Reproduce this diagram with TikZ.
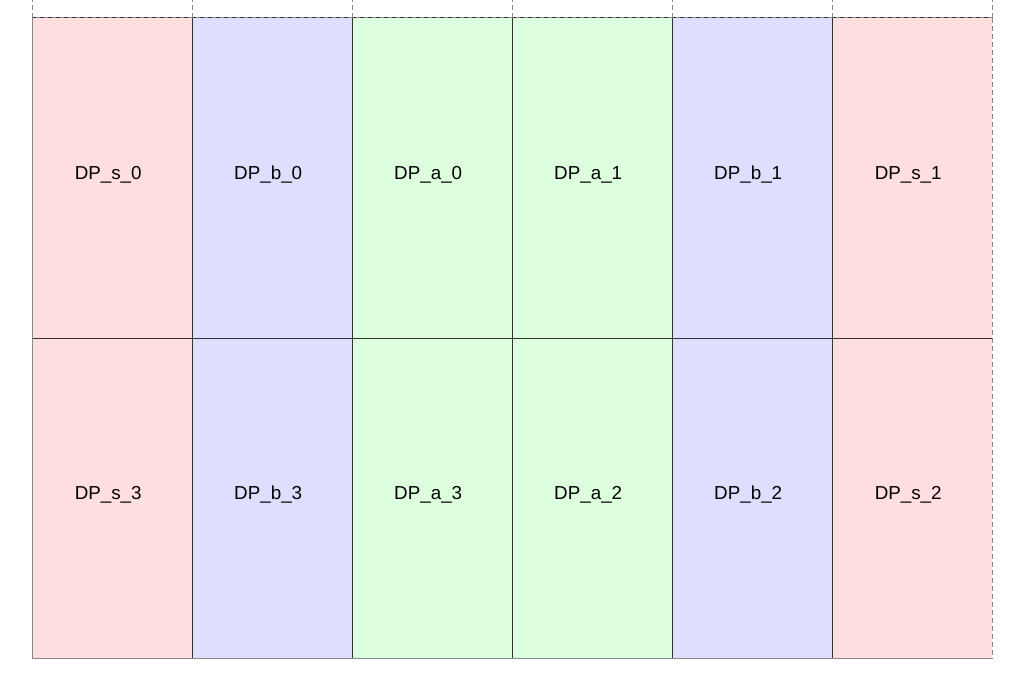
\documentclass[tikz,border=0pt]{standalone}
\usepackage{fontspec}
\setmainfont{Liberation Sans}
\definecolor{cpink}{HTML}{FFDEE0}
\definecolor{cblue}{HTML}{DEDEFF}
\definecolor{cgreen}{HTML}{DEFFDE}
\definecolor{cdark}{HTML}{333333}
\definecolor{cgray}{HTML}{888888}
\newcommand{\celltxt}[1]{#1\hspace*{8pt}}
\begin{document}
\begin{tikzpicture}[x=1pt,y=-1pt,
  cell/.style={rectangle,minimum width=160pt,minimum height=320pt,inner sep=0pt,font=\fontsize{18.8}{20}\selectfont,text height=14pt,text depth=12pt,anchor=north west},
  inner/.style={draw=cdark,line width=1pt},
  outer/.style={draw=cgray,line width=1pt},
  dashedge/.style={draw=cgray,line width=1pt,dash pattern=on 5pt off 3pt}]
\useasboundingbox (0,0) rectangle (1024,690);
\node[cell,fill=cpink]  (s0) at (32,18) {\celltxt{DP\_s\_0}};
\node[cell,fill=cblue]  (b0) at (192,18) {\celltxt{DP\_b\_0}};
\node[cell,fill=cgreen] (a0) at (352,18) {\celltxt{DP\_a\_0}};
\node[cell,fill=cgreen] (a1) at (512,18) {\celltxt{DP\_a\_1}};
\node[cell,fill=cblue]  (b1) at (672,18) {\celltxt{DP\_b\_1}};
\node[cell,fill=cpink]  (s1) at (832,18) {\celltxt{DP\_s\_1}};
\node[cell,fill=cpink]  (s3) at (32,338) {\celltxt{DP\_s\_3}};
\node[cell,fill=cblue]  (b3) at (192,338) {\celltxt{DP\_b\_3}};
\node[cell,fill=cgreen] (a3) at (352,338) {\celltxt{DP\_a\_3}};
\node[cell,fill=cgreen] (a2) at (512,338) {\celltxt{DP\_a\_2}};
\node[cell,fill=cblue]  (b2) at (672,338) {\celltxt{DP\_b\_2}};
\node[cell,fill=cpink]  (s2) at (832,338) {\celltxt{DP\_s\_2}};
% inner lines
\draw[inner] (s0.north east) -- (s3.south east);
\draw[inner] (b0.north east) -- (b3.south east);
\draw[inner] (a0.north east) -- (a3.south east);
\draw[inner] (a1.north east) -- (a2.south east);
\draw[inner] (b1.north east) -- (b2.south east);
\draw[inner] (s3.north west) -- (s2.north east);
% outer edges
\draw[outer] (s0.north west) -- (s3.south west) -- (s2.south east);
\draw[dashedge] (s1.north east) -- (s2.south east);
\draw[draw=cdark,line width=1pt] (s0.north west) -- (s1.north east);
\draw[draw=cgray,line width=1pt,dash pattern=on 4pt off 4pt,dash phase=4pt] (s0.north west) -- (s1.north east);
% top ticks
\foreach \n in {s0,b0,a0,a1,b1,s1} {
  \coordinate (t\n) at ([yshift=18pt]\n.north west);
  \draw[dashedge] (\n.north west) -- (t\n);
}
\coordinate (ts1e) at ([yshift=18pt]s1.north east);
\draw[dashedge] (s1.north east) -- (ts1e);
\end{tikzpicture}
\end{document}
